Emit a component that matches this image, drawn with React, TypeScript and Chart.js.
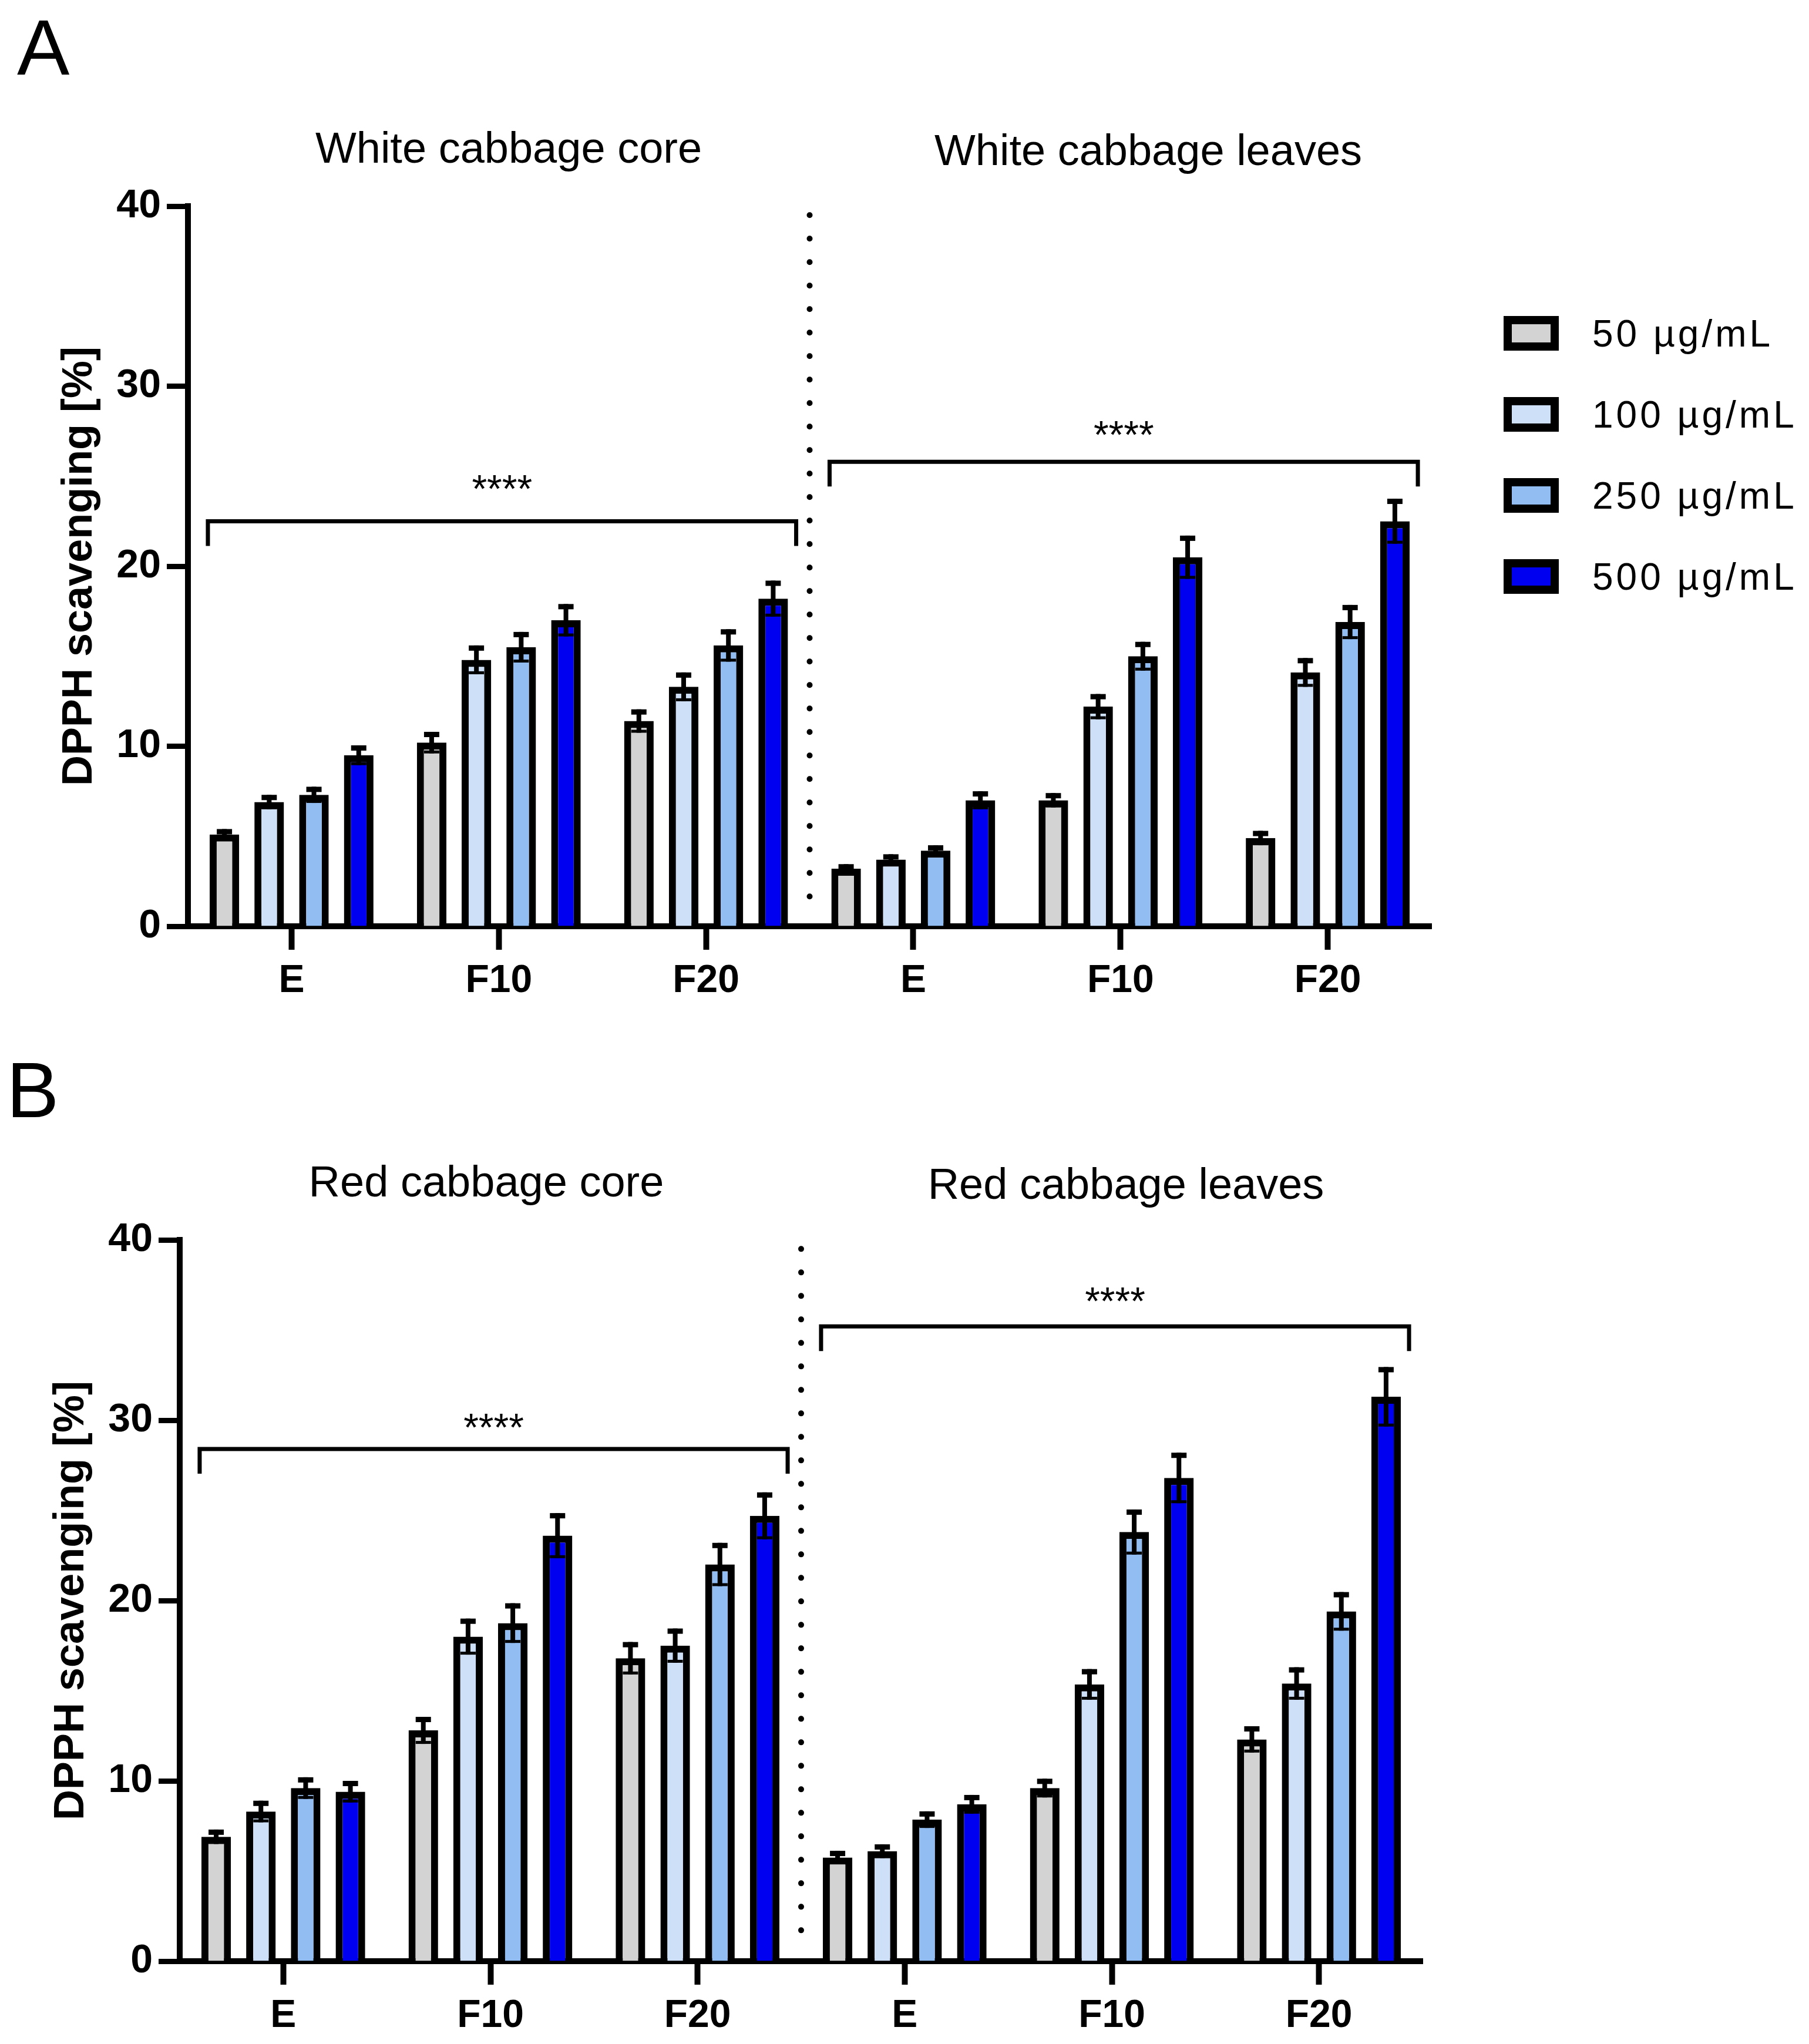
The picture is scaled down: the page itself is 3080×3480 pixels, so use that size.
import { useEffect, useRef } from 'react'
import { Chart, registerables, type ChartConfiguration, type Plugin } from 'chart.js'

Chart.register(...registerables)

const FONT = "'Liberation Sans', Arial, Helvetica, sans-serif"

// shared axis content
const categories = ['E', 'F10', 'F20', 'E', 'F10', 'F20']
const doseLabels = ['50 µg/mL', '100 µg/mL', '250 µg/mL', '500 µg/mL']
const doseColors = ['#d3d3d3', '#cde0f8', '#91bdf3', '#0000f0']
const yTickValues = [0, 10, 20, 30, 40]
const yTitle = 'DPPH scavenging [%]'
const stars = '****'

// panel A - white cabbage (core E, F10, F20 | leaves E, F10, F20)
const whiteTitles = ['White cabbage core', 'White cabbage leaves']
const white50 = [5.1, 10.2, 11.4, 3.2, 7.0, 4.9]
const white100 = [6.9, 14.8, 13.3, 3.7, 12.2, 14.1]
const white250 = [7.3, 15.5, 15.6, 4.2, 15.0, 16.9]
const white500 = [9.5, 17.0, 18.2, 7.0, 20.5, 22.5]
const white50Err = [0.3, 0.6, 0.65, 0.25, 0.4, 0.4]
const white100Err = [0.4, 0.8, 0.8, 0.3, 0.7, 0.8]
const white250Err = [0.45, 0.85, 0.9, 0.3, 0.8, 0.95]
const white500Err = [0.55, 0.9, 1.0, 0.5, 1.2, 1.25]
const whiteBrackets = [22.5, 25.8]
const whiteStarLevels = [24.8, 27.8]

// panel B - red cabbage
const redTitles = ['Red cabbage core', 'Red cabbage leaves']
const red50 = [6.9, 12.8, 16.8, 5.75, 9.6, 12.3]
const red100 = [8.3, 18.0, 17.5, 6.1, 15.35, 15.4]
const red250 = [9.6, 18.75, 22.0, 7.85, 23.8, 19.4]
const red500 = [9.4, 23.6, 24.7, 8.7, 26.8, 31.3]
const red50Err = [0.4, 0.75, 0.9, 0.37, 0.52, 0.73]
const red100Err = [0.6, 1.0, 0.95, 0.38, 0.85, 0.9]
const red250Err = [0.6, 1.1, 1.2, 0.46, 1.25, 1.07]
const red500Err = [0.6, 1.25, 1.3, 0.52, 1.4, 1.65]
const redBrackets = [28.4, 35.2]
const redStarLevels = [30.1, 37.1]

const CANVAS_W = 3080
const CANVAS_H = 1740

type Layout = {
  top: number
  bottom: number
  left: number
  right: number
  titleX: number[]
  titleY: number[]
  letterX: number
  letterY: number
}

type PanelProps = {
  letter: string
  titles: string[]
  values: number[][]
  errors: number[][]
  brackets: number[]
  starLevels: number[]
  showLegend: boolean
  layout: Layout
}

function decorPlugin(props: PanelProps): Plugin<'bar'> {
  return {
    id: 'panelDecor',
    afterDatasetsDraw(chart) {
      const ctx = chart.ctx
      const y = chart.scales.y
      ctx.save()
      ctx.fillStyle = '#000'
      chart.data.datasets.forEach((ds, di) => {
        const meta = chart.getDatasetMeta(di)
        meta.data.forEach((bar, i) => {
          const v = ds.data[i] as number
          const e = props.errors[di][i]
          const x = bar.x
          const yTop = y.getPixelForValue(v + e)
          const yBot = y.getPixelForValue(v - e)
          ctx.fillRect(x - 4, yTop, 8, yBot - yTop)
          ctx.fillRect(x - 13, yTop, 26, 9)
          ctx.fillRect(x - 13, yBot - 5, 26, 5)
        })
      })
      ctx.restore()
    },
    afterDraw(chart) {
      const ctx = chart.ctx
      const x = chart.scales.x
      const y = chart.scales.y
      const { layout } = props
      ctx.save()
      ctx.fillStyle = '#000'
      ctx.strokeStyle = '#000'

      // dotted divider between core and leaves
      const xd = (x.getPixelForValue(2) + x.getPixelForValue(3)) / 2
      ctx.lineWidth = 10
      ctx.lineCap = 'round'
      ctx.setLineDash([0, 40])
      ctx.beginPath()
      ctx.moveTo(xd, y.getPixelForValue(39.5))
      ctx.lineTo(xd, y.getPixelForValue(1.6))
      ctx.stroke()
      ctx.setLineDash([])

      // significance brackets
      const first = chart.getDatasetMeta(0)
      const last = chart.getDatasetMeta(chart.data.datasets.length - 1)
      props.brackets.forEach((level, g) => {
        const b0 = first.data[g * 3] as any
        const b1 = last.data[g * 3 + 2] as any
        const x0 = b0.x - b0.width / 2 - 3
        const x1 = b1.x + b1.width / 2 + 14
        const yy = y.getPixelForValue(level)
        ctx.lineWidth = 7
        ctx.lineCap = 'butt'
        ctx.lineJoin = 'miter'
        ctx.beginPath()
        ctx.moveTo(x0, yy + 42)
        ctx.lineTo(x0, yy)
        ctx.lineTo(x1, yy)
        ctx.lineTo(x1, yy + 42)
        ctx.stroke()
        ctx.font = `66px ${FONT}`
        ctx.textAlign = 'center'
        ctx.textBaseline = 'alphabetic'
        ctx.fillText(stars, (x0 + x1) / 2, y.getPixelForValue(props.starLevels[g]) + 38)
      })

      // panel letter and group titles
      ctx.textAlign = 'left'
      ctx.textBaseline = 'alphabetic'
      ctx.font = `134px ${FONT}`
      ctx.fillText(props.letter, layout.letterX, layout.letterY)
      ctx.textAlign = 'center'
      ctx.font = `74px ${FONT}`
      props.titles.forEach((t, k) => ctx.fillText(t, layout.titleX[k], layout.titleY[k]))

      // legend
      if (props.showLegend) {
        chart.data.datasets.forEach((ds, di) => {
          const cy = 568 + di * 138
          ctx.fillStyle = '#000'
          ctx.fillRect(2560, cy - 30, 94, 59)
          ctx.fillStyle = ds.backgroundColor as string
          ctx.fillRect(2574, cy - 16, 66, 31)
          ctx.fillStyle = '#000'
          ctx.font = `64px ${FONT}`
          ;(ctx as any).letterSpacing = '5px'
          ctx.textAlign = 'left'
          ctx.textBaseline = 'middle'
          ctx.fillText(ds.label as string, 2711, cy + 4)
          ;(ctx as any).letterSpacing = '0px'
        })
      }
      ctx.restore()
    },
  }
}

function Panel(props: PanelProps) {
  const canvasRef = useRef<HTMLCanvasElement | null>(null)
  const chartRef = useRef<Chart<'bar'> | null>(null)

  useEffect(() => {
    const canvas = canvasRef.current
    if (!canvas) {
      return
    }
    const { layout } = props

    const config: ChartConfiguration<'bar'> = {
      type: 'bar',
      data: {
        labels: categories,
        datasets: props.values.map((data, i) => ({
          label: doseLabels[i],
          data,
          backgroundColor: doseColors[i],
          borderColor: '#000',
          borderWidth: 12,
          borderSkipped: 'bottom',
          categoryPercentage: 0.864,
          barPercentage: 0.66,
        })),
      },
      options: {
        animation: false,
        responsive: true,
        maintainAspectRatio: false,
        layout: {
          padding: { top: layout.top, left: 0, right: CANVAS_W - layout.right, bottom: 0 },
        },
        plugins: {
          legend: { display: false },
          tooltip: { enabled: false },
        },
        scales: {
          x: {
            z: 1,
            afterFit: (scale) => {
              scale.height = CANVAS_H - layout.bottom
            },
            border: { display: true, width: 10, color: '#000' },
            grid: {
              offset: false,
              drawOnChartArea: false,
              drawTicks: true,
              tickLength: 40,
              tickWidth: 10,
              tickColor: '#000',
            },
            ticks: {
              color: '#000',
              padding: 14,
              font: { size: 66, weight: 'bold', family: FONT },
            },
          },
          y: {
            min: 0,
            max: 40,
            afterBuildTicks: (scale) => {
              scale.ticks = yTickValues.map((value) => ({ value }))
            },
            afterFit: (scale) => {
              scale.width = layout.left
            },
            border: { display: true, width: 10, color: '#000' },
            grid: {
              drawOnChartArea: false,
              drawTicks: true,
              tickLength: 36,
              tickWidth: 9,
              tickColor: '#000',
            },
            ticks: {
              color: '#000',
              padding: 10,
              font: { size: 68, weight: 'bold', family: FONT },
            },
            title: {
              display: true,
              text: yTitle,
              color: '#000',
              font: { size: 72, weight: 'bold', family: FONT },
              padding: { top: layout.left - 184 - 43, bottom: 0 },
            },
          },
        },
      },
      plugins: [decorPlugin(props)],
    }

    chartRef.current?.destroy()
    chartRef.current = new Chart(canvas, config)

    return () => {
      chartRef.current?.destroy()
      chartRef.current = null
    }
  }, [])

  return (
    <div style={{ position: 'relative', width: CANVAS_W, height: CANVAS_H }}>
      <canvas ref={canvasRef} />
    </div>
  )
}

export default function App() {
  useEffect(() => {
    document.body.style.margin = '0'
    document.body.style.background = '#fff'
  }, [])

  return (
    <div style={{ width: CANVAS_W, background: '#fff' }}>
      <Panel
        letter="A"
        titles={whiteTitles}
        values={[white50, white100, white250, white500]}
        errors={[white50Err, white100Err, white250Err, white500Err]}
        brackets={whiteBrackets}
        starLevels={whiteStarLevels}
        showLegend
        layout={{
          top: 351,
          bottom: 1577,
          left: 320,
          right: 2437,
          titleX: [866, 1955],
          titleY: [277, 281],
          letterX: 29,
          letterY: 127,
        }}
      />
      <Panel
        letter="B"
        titles={redTitles}
        values={[red50, red100, red250, red500]}
        errors={[red50Err, red100Err, red250Err, red500Err]}
        brackets={redBrackets}
        starLevels={redStarLevels}
        showLegend={false}
        layout={{
          top: 371,
          bottom: 1599,
          left: 306,
          right: 2422,
          titleX: [828, 1917],
          titleY: [297, 301],
          letterX: 11,
          letterY: 162,
        }}
      />
    </div>
  )
}
